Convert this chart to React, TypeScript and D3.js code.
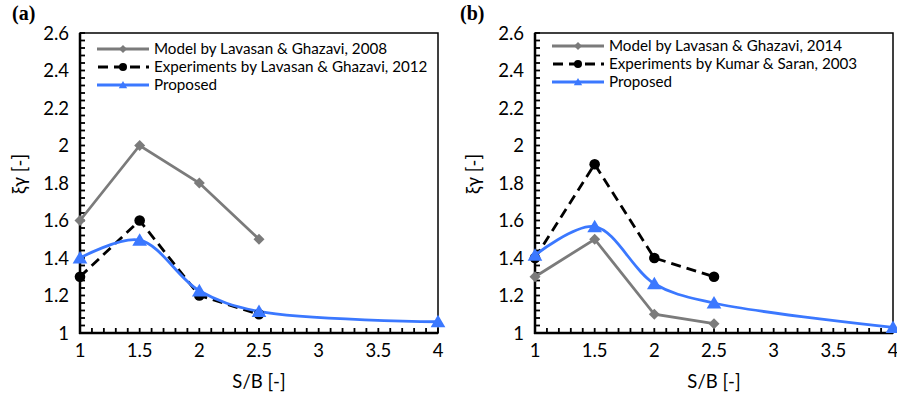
import * as d3 from "d3";

const FONT = "Lato, 'Open Sans', sans-serif";
const GRAY = "#7b7b7b";
const BLUE = "#3b78ff";

// shared axis ticks
const xTicks = [1, 1.5, 2, 2.5, 3, 3.5, 4];
const yTicks = [1, 1.2, 1.4, 1.6, 1.8, 2, 2.2, 2.4, 2.6];
const yTickLabels = ["1", "1.2", "1.4", "1.6", "1.8", "2", "2.2", "2.4", "2.6"];

// panel (a)
const aModelX = [1, 1.5, 2, 2.5];
const aModelY = [1.6, 2.0, 1.8, 1.5];
const aExpX = [1, 1.5, 2, 2.5];
const aExpY = [1.3, 1.6, 1.2, 1.1];
const aPropX = [1, 1.5, 2, 2.5, 4];
const aPropY = [1.4, 1.495, 1.225, 1.115, 1.06];
const aNames = [
  "Model by Lavasan & Ghazavi, 2008",
  "Experiments by Lavasan & Ghazavi, 2012",
  "Proposed",
];

// panel (b)
const bModelX = [1, 1.5, 2, 2.5];
const bModelY = [1.3, 1.5, 1.1, 1.05];
const bExpX = [1, 1.5, 2, 2.5];
const bExpY = [1.4, 1.9, 1.4, 1.3];
const bPropX = [1, 1.5, 2, 2.5, 4];
const bPropY = [1.415, 1.567, 1.263, 1.16, 1.03];
const bNames = [
  "Model by Lavasan & Ghazavi, 2014",
  "Experiments by Kumar & Saran, 2003",
  "Proposed",
];

type Pt = [number, number];
const zip = (xs: number[], ys: number[]): Pt[] => xs.map((x, i) => [x, ys[i]]);

const Diamond = ({ x, y, r }: { x: number; y: number; r: number }) => (
  <path d={`M${x},${y - r}L${x + r},${y}L${x},${y + r}L${x - r},${y}Z`} fill={GRAY} />
);
const Tri = ({ x, y, r }: { x: number; y: number; r: number }) => (
  <path d={`M${x},${y - r}L${x + r * 1.05},${y + r * 0.8}L${x - r * 1.05},${y + r * 0.8}Z`} fill={BLUE} />
);

type PanelProps = {
  left: number;
  label: string;
  labelX: number;
  model: Pt[];
  exp: Pt[];
  prop: Pt[];
  names: string[];
  legendX: number;
  legendY: number;
  yLabelX: number;
};

const Panel = ({ left, label, labelX, model, exp, prop, names, legendX, legendY, yLabelX }: PanelProps) => {
  const top = 33;
  const bottom = 333;
  const right = left + 358;
  const x = d3.scaleLinear().domain([1, 4]).range([left, right]);
  const y = d3.scaleLinear().domain([1, 2.6]).range([bottom, top]);

  const straight = d3.line<Pt>().x((d) => x(d[0])).y((d) => y(d[1]));
  const smooth = d3
    .line<Pt>()
    .x((d) => x(d[0]))
    .y((d) => y(d[1]))
    .curve(d3.curveCatmullRom.alpha(0.5));

  const minorX = d3.range(1, 4.0001, 0.1);
  const minorY = d3.range(1, 2.6001, 0.04);

  return (
    <g>
      <text x={labelX} y={20} fontFamily="'Times New Roman', 'Liberation Serif', serif" fontWeight="bold" fontSize={20}>
        {label}
      </text>
      {/* frame */}
      <rect x={left} y={top} width={right - left} height={bottom - top} fill="none" stroke="#000" strokeWidth={1.5} />
      <line x1={left} x2={left} y1={top} y2={bottom + 1} stroke="#000" strokeWidth={2.5} />
      <line x1={left - 1} x2={right} y1={bottom} y2={bottom} stroke="#000" strokeWidth={2.5} />
      {minorX.map((v, i) => (
        <line key={"mx" + i} x1={x(v)} x2={x(v)} y1={bottom} y2={bottom - 5} stroke="#000" strokeWidth={1.8} />
      ))}
      {minorY.map((v, i) => (
        <line key={"my" + i} x1={left} x2={left + 5} y1={y(v)} y2={y(v)} stroke="#000" strokeWidth={1.8} />
      ))}
      {xTicks.map((v) => (
        <text key={"xt" + v} x={x(v)} y={357} textAnchor="middle" fontFamily={FONT} fontSize={18.5}>
          {String(v)}
        </text>
      ))}
      {yTicks.map((v, i) => (
        <text key={"yt" + v} x={left - 11} y={y(v) + 6.5} textAnchor="end" fontFamily={FONT} fontSize={18.5}>
          {yTickLabels[i]}
        </text>
      ))}
      <text x={(left + right) / 2} y={388} textAnchor="middle" fontFamily={FONT} fontSize={18.5}>
        S/B [-]
      </text>
      <text
        transform={`translate(${yLabelX},174) rotate(-90)`}
        textAnchor="middle"
        fontFamily={FONT}
        fontSize={18.5}
      >
        ξγ  [-]
      </text>

      {/* series */}
      <path d={straight(model) ?? ""} fill="none" stroke={GRAY} strokeWidth={2.8} />
      <path d={straight(exp) ?? ""} fill="none" stroke="#000" strokeWidth={2.8} strokeDasharray="10,6" />
      <path d={smooth(prop) ?? ""} fill="none" stroke={BLUE} strokeWidth={2.8} />
      {model.map((d, i) => (
        <Diamond key={"d" + i} x={x(d[0])} y={y(d[1])} r={5.5} />
      ))}
      {exp.map((d, i) => (
        <circle key={"c" + i} cx={x(d[0])} cy={y(d[1])} r={5.3} fill="#000" />
      ))}
      {prop.map((d, i) => (
        <Tri key={"t" + i} x={x(d[0])} y={y(d[1])} r={7} />
      ))}

      {/* legend */}
      <g>
        <line x1={legendX} x2={legendX + 52} y1={legendY} y2={legendY} stroke={GRAY} strokeWidth={2.8} />
        <Diamond x={legendX + 26} y={legendY} r={4} />
        <text x={legendX + 57} y={legendY + 5} fontFamily={FONT} fontSize={15.2}>{names[0]}</text>
        <line x1={legendX} x2={legendX + 52} y1={legendY + 18} y2={legendY + 18} stroke="#000" strokeWidth={2.8} strokeDasharray="10,6" strokeDashoffset={-1} />
        <circle cx={legendX + 26} cy={legendY + 18} r={4} fill="#000" />
        <text x={legendX + 57} y={legendY + 23} fontFamily={FONT} fontSize={15.2}>{names[1]}</text>
        <line x1={legendX} x2={legendX + 52} y1={legendY + 36} y2={legendY + 36} stroke={BLUE} strokeWidth={2.8} />
        <Tri x={legendX + 26} y={legendY + 36} r={4} />
        <text x={legendX + 57} y={legendY + 41} fontFamily={FONT} fontSize={15.2}>{names[2]}</text>
      </g>
    </g>
  );
};

export default function App() {
  return (
    <svg width={897} height={398} style={{ position: "absolute", left: 0, top: 0, background: "#fff" }}>
      <rect width={897} height={398} fill="#fff" />
      <Panel
        left={80}
        label="(a)"
        labelX={12}
        model={zip(aModelX, aModelY)}
        exp={zip(aExpX, aExpY)}
        prop={zip(aPropX, aPropY)}
        names={aNames}
        legendX={97}
        legendY={49}
        yLabelX={26}
      />
      <Panel
        left={535}
        label="(b)"
        labelX={460}
        model={zip(bModelX, bModelY)}
        exp={zip(bExpX, bExpY)}
        prop={zip(bPropX, bPropY)}
        names={bNames}
        legendX={552}
        legendY={46}
        yLabelX={480}
      />
    </svg>
  );
}
